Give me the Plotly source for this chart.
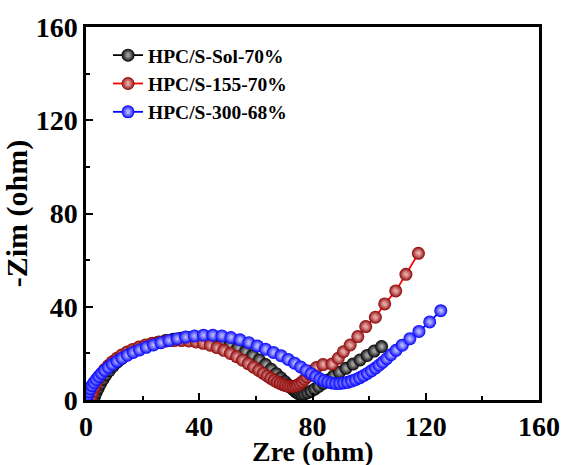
import plotly.graph_objects as go

# ---- data ----
names = ["HPC/S-Sol-70%", "HPC/S-155-70%", "HPC/S-300-68%"]
x_title = "Zre (ohm)"
y_title = "-Zim (ohm)"

sol_x = [2.5, 3.0, 3.6, 4.3, 5.1, 6.0, 7.0, 8.2, 9.5, 11.0, 12.6, 14.4, 16.3, 18.4, 20.6, 23.0,
         25.5, 28.1, 30.8, 33.6, 36.4, 39.3, 42.2, 45.1, 48.0, 50.9, 53.6, 56.3, 58.8, 61.2,
         63.4, 65.4, 67.2, 68.8, 70.2, 71.4, 72.4, 73.3, 74.1, 74.8, 75.5, 76.3, 77.2, 78.3,
         79.5, 80.8, 82.2, 83.8, 85.5, 87.4, 89.5, 91.8, 94.3, 96.8, 99.3, 101.8, 104.4]
sol_y = [0.0, 1.5, 3.2, 5.0, 6.9, 8.8, 10.7, 12.6, 14.4, 16.2, 17.8, 19.3, 20.7, 21.9, 23.0, 24.0,
         24.8, 25.5, 26.1, 26.5, 26.7, 26.6, 26.2, 25.6, 24.7, 23.6, 22.3, 20.7, 19.0, 17.2,
         15.2, 13.2, 11.3, 9.5, 7.9, 6.5, 5.3, 4.3, 3.5, 2.9, 2.5, 2.4, 2.6, 3.1,
         3.8, 4.7, 5.8, 7.1, 8.6, 10.2, 11.9, 13.6, 15.4, 17.2, 19.1, 21.0, 22.9]

s155_x = [1.5, 1.9, 2.4, 3.0, 3.7, 4.5, 5.5, 6.6, 7.9, 9.3, 10.9, 12.6, 14.5, 16.5, 18.7, 21.0,
          23.4, 25.9, 28.5, 31.1, 33.7, 36.3, 38.9, 41.4, 43.9, 46.3, 48.7, 51.0, 53.2, 55.3,
          57.3, 59.2, 61.0, 62.6, 64.0, 65.3, 66.5, 67.6, 68.6, 69.6, 70.5, 71.4, 72.3, 73.2,
          74.0, 74.8, 75.6, 76.4, 77.2, 78.0, 78.9, 80.0, 81.4, 83.7, 86.9, 89.1, 90.9, 93.3,
          96.0, 98.8, 102.2, 105.5, 109.4, 113.0, 117.4]
s155_y = [0.0, 1.8, 3.7, 5.6, 7.5, 9.4, 11.3, 13.1, 14.8, 16.4, 17.9, 19.3, 20.6, 21.7, 22.7, 23.6,
          24.3, 24.9, 25.3, 25.5, 25.5, 25.3, 24.9, 24.3, 23.5, 22.5, 21.3, 20.0, 18.6, 17.1,
          15.6, 14.1, 12.7, 11.4, 10.3, 9.3, 8.4, 7.7, 7.1, 6.6, 6.2, 5.9, 5.8, 5.8,
          6.0, 6.4, 7.0, 7.8, 8.8, 9.9, 11.1, 12.5, 13.9, 15.2, 15.4, 17.9, 20.7, 23.6,
          27.2, 31.5, 35.5, 41.2, 46.8, 53.9, 62.9]

s300_x = [0.3, 0.6, 1.0, 1.5, 2.1, 2.8, 3.6, 4.5, 5.5, 6.6, 7.9, 9.3, 10.9, 12.7, 14.6, 16.7,
          18.9, 21.3, 23.8, 26.5, 29.3, 32.2, 35.2, 38.3, 41.5, 44.8, 48.0, 51.2, 54.4, 57.5,
          60.5, 63.4, 66.2, 68.9, 71.4, 73.7, 75.8, 77.7, 79.5, 81.1, 82.6, 84.0, 85.4, 86.8,
          88.2, 89.6, 91.0, 92.4, 93.8, 95.2, 96.6, 98.0, 99.4, 100.8, 102.2, 103.5, 104.8,
          106.2, 107.7, 109.5, 111.7, 114.4, 117.6, 121.4, 125.3]
s300_y = [1.0, 2.2, 3.5, 4.8, 6.2, 7.5, 8.8, 10.1, 11.4, 12.7, 14.0, 15.3, 16.6, 17.9, 19.2, 20.4,
          21.5, 22.6, 23.6, 24.6, 25.5, 26.3, 27.0, 27.5, 27.8, 27.8, 27.5, 26.8, 25.8, 24.6,
          23.2, 21.8, 20.4, 19.0, 17.4, 15.8, 14.2, 12.7, 11.3, 10.1, 9.1, 8.3, 7.7, 7.3,
          7.1, 7.1, 7.3, 7.6, 8.1, 8.7, 9.5, 10.4, 11.4, 12.5, 13.7, 14.9, 16.2,
          17.7, 19.4, 21.3, 23.5, 26.3, 29.4, 33.5, 38.3]

tick_vals = [0, 40, 80, 120, 160]

series = [
    (names[0], sol_x, sol_y, "#000000", "#000000", "rgba(190,190,190,0.9)"),
    (names[1], s155_x, s155_y, "#ff0000", "#8b0000", "rgba(245,200,200,0.85)"),
    (names[2], s300_x, s300_y, "#0000ff", "#0000ff", "rgba(215,215,255,0.9)"),
]

FONT = "Liberation Serif"

fig = go.Figure()
for name, xs, ys, lc, mc, hc in series:
    fig.add_trace(go.Scatter(
        x=xs, y=ys, name=name, mode="lines+markers",
        line=dict(color=lc, width=1.8),
        marker=dict(size=13, color=mc, line=dict(width=0),
                    gradient=dict(type="radial", color=hc)),
    ))

axis_common = dict(
    range=[0, 160], tickvals=tick_vals, ticks="inside", ticklen=7, tickwidth=2,
    tickcolor="black", showline=True, linewidth=2.5, linecolor="black", mirror=True,
    showgrid=False, zeroline=False, automargin=False,
    tickfont=dict(family=FONT, size=28, color="black", weight="bold"),
    minor=dict(ticks="inside", ticklen=4, tickwidth=2, tickcolor="black", dtick=20, showgrid=False),
)

fig.update_layout(
    width=562, height=465,
    margin=dict(l=86, r=23, t=27, b=65),
    paper_bgcolor="white", plot_bgcolor="white",
    font=dict(family=FONT, color="black"),
    xaxis=dict(**axis_common),
    yaxis=dict(**axis_common,
               title=dict(text="<b>" + y_title + "</b>", font=dict(family=FONT, size=30), standoff=7)),
    legend=dict(x=0.0486, y=0.976, xanchor="left", yanchor="top",
                bgcolor="rgba(0,0,0,0)", borderwidth=0, tracegroupgap=0,
                font=dict(family=FONT, size=19.5, color="black", weight="bold")),
    showlegend=True,
    annotations=[dict(text="<b>" + x_title + "</b>", xref="paper", yref="paper",
                      x=0.5, y=-0.137, xanchor="center", yanchor="middle",
                      showarrow=False, font=dict(family=FONT, size=28, color="black"))],
)

# remove the default page margin so the figure fills the window exactly
fig.write_html(
    "out.html",
    config={"displayModeBar": False},
    post_script="document.body.style.margin='0';document.body.style.overflow='hidden';",
)
